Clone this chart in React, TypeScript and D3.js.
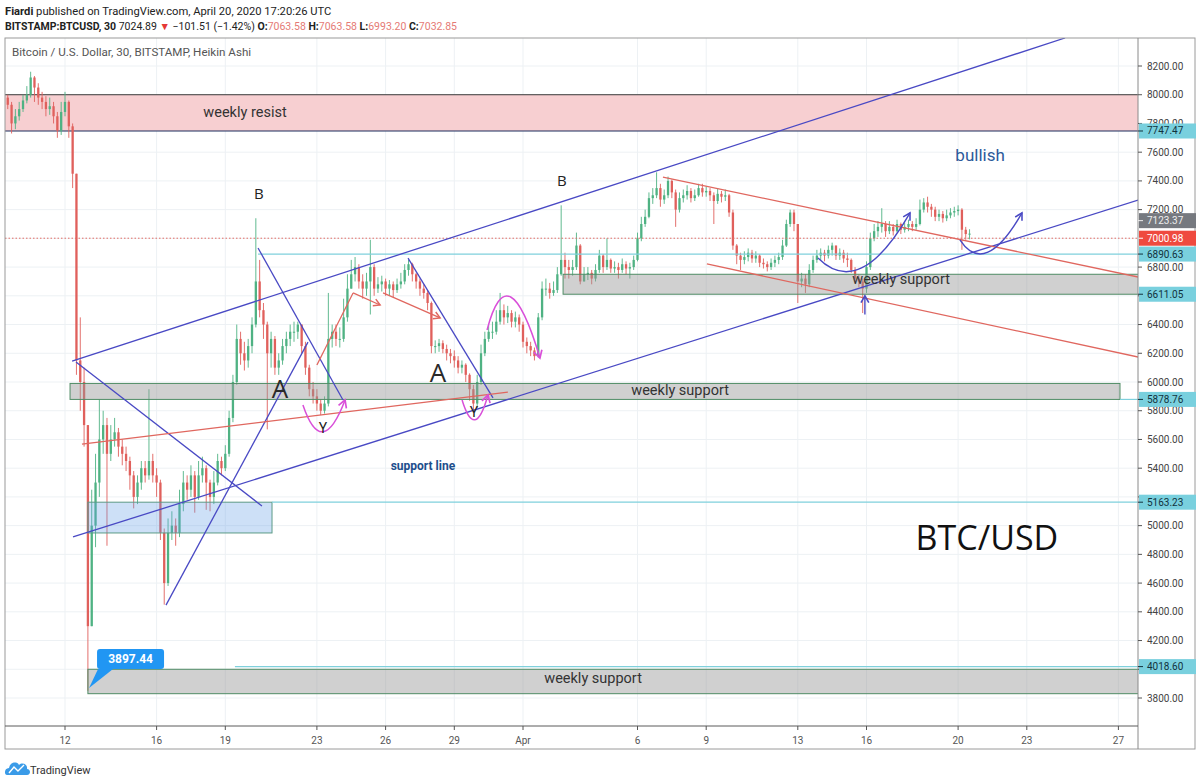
import React from "react";
import * as d3 from "d3";

// ---------- DATA (4-hour candles, first candle = 2020-03-09 12:00 UTC) ----------
const firstOpen = 7980;
const closes = [
  7930, 7800, 7850,
  7900, 7960, 8000, 8120, 8050, 7980,
  7950, 7900, 7920, 7850, 7750, 7880,
  7950, 7780, 7450, 6150, 6000, 5700,
  4300, 5000, 5300, 5600, 5700, 5500,
  5600, 5650, 5550, 5500, 5450, 5350,
  5200, 5300, 5400, 5350, 5450, 5350,
  5300, 4950, 4600, 4950, 5000, 4950,
  5150, 5300, 5250, 5350, 5200, 5350,
  5400, 5300, 5200, 5300, 5450, 5400,
  5500, 5750, 6000, 6300, 6200, 6150,
  6250, 6400, 6700, 6500, 6400, 6200,
  6300, 6100, 6150, 6250, 6300, 6350,
  6350, 6400, 6250, 6100, 5950, 5900,
  5850, 5800, 5850, 6300, 6350, 6300,
  6300, 6450, 6650, 6750, 6800, 6700,
  6650, 6700, 6800, 6650, 6680, 6700,
  6650, 6680, 6640, 6680, 6700, 6780,
  6820, 6750, 6700, 6650, 6620, 6550,
  6250, 6250, 6270, 6230, 6200, 6180,
  6150, 6100, 6120, 6050, 5950, 5850,
  6000, 6200, 6300, 6350, 6350, 6420,
  6500, 6450, 6480, 6420, 6450, 6400,
  6280, 6250, 6220, 6180, 6450, 6650,
  6650, 6620, 6640, 6750, 6850, 6800,
  6780, 6800, 6950, 6700, 6750, 6760,
  6720, 6780, 6880, 6800, 6850, 6790,
  6800, 6780, 6820, 6790, 6800, 6850,
  7000, 7100, 7150, 7280, 7300, 7350,
  7270, 7300, 7400, 7320, 7200, 7280,
  7300, 7330, 7280, 7300, 7350, 7320,
  7330, 7300, 7260, 7310, 7290, 7300,
  7180, 6950, 6880, 6850, 6870, 6900,
  6860, 6880, 6830, 6820, 6800, 6830,
  6850, 6870, 6950, 7100, 7180, 7100,
  6700, 6720, 6680, 6780, 6850, 6880,
  6900, 6880, 6920, 6950, 6880, 6900,
  6860, 6850, 6780, 6720, 6700, 6650,
  6800, 7000, 7050, 7080, 7100, 7050,
  7080, 7050, 7100, 7060, 7080, 7100,
  7080, 7100, 7200, 7250, 7220, 7200,
  7150, 7170, 7140, 7160, 7180, 7190,
  7200, 7060, 7030, 7032.85,
];
const highs = [
  8000, 7950, 7900,
  7950, 8000, 8060, 8160, 8130, 8080,
  8020, 7990, 7980, 7950, 7880, 7950,
  8020, 7960, 7800, 7450, 6450, 6100,
  5700, 5250, 5500, 5880, 5800, 5750,
  5700, 5750, 5680, 5600, 5550, 5480,
  5380, 5350, 5450, 5450, 5950, 5500,
  5400, 5320, 4980, 5050, 5100, 5050,
  5250, 5380, 5350, 5420, 5380, 5450,
  5480, 5420, 5320, 5380, 5500, 5480,
  5560, 5800, 6050, 6400, 6350, 6280,
  6300, 6450, 7140, 6850, 6550, 6420,
  6350, 6320, 6200, 6300, 6350, 6400,
  6420, 6420, 6400, 6280, 6120, 6000,
  5950, 5880, 5900, 6620, 6400, 6400,
  6380, 6580, 6750, 6850, 6870, 6820,
  6750, 6760, 6990, 6820, 6730, 6740,
  6720, 6710, 6700, 6720, 6760, 6820,
  6850, 6830, 6760, 6720, 6680, 6640,
  6560, 6290, 6300, 6290, 6260, 6230,
  6220, 6180, 6150, 6130, 6060, 5980,
  6050, 6260, 6350, 6400, 6420, 6500,
  6620, 6540, 6530, 6500, 6490, 6470,
  6420, 6310, 6280, 6240, 6480, 6700,
  6720, 6690, 6700, 6800, 7230, 6900,
  6850, 6850, 7040, 6960, 6800, 6800,
  6780, 6820, 6920, 6890, 7000, 6860,
  6840, 6830, 6860, 6840, 6830, 6880,
  7040, 7150, 7200, 7320, 7350, 7460,
  7380, 7340, 7430, 7410, 7340, 7320,
  7340, 7370, 7350, 7340, 7380, 7380,
  7360, 7350, 7320, 7350, 7330, 7340,
  7310, 7200, 6960, 6900, 6910, 6930,
  6920, 6910, 6890, 6860, 6840, 6860,
  6880, 6900, 6990, 7130, 7200, 7200,
  7100, 6760, 6750, 6820, 6880, 6920,
  6930, 6920, 6950, 6970, 6950, 6930,
  6920, 6900, 6860, 6800, 6750, 6720,
  6840, 7040, 7100, 7120, 7210, 7120,
  7120, 7100, 7130, 7110, 7110, 7130,
  7120, 7140, 7270, 7280, 7290, 7240,
  7220, 7200, 7190, 7200, 7210, 7220,
  7230, 7210, 7080, 7063.58,
];
const lows = [
  7900, 7730, 7760,
  7820, 7880, 7940, 7980, 7950, 7930,
  7900, 7850, 7860, 7800, 7700, 7720,
  7850, 7700, 7350, 6050, 5800, 5550,
  3850, 4300, 4850, 5200, 5500, 4860,
  5450, 5550, 5480, 5420, 5380, 5250,
  5120, 5150, 5250, 5300, 5320, 5300,
  5200, 4900, 4450, 4580, 4900, 4860,
  4920, 5100, 5180, 5200, 5090, 5180,
  5300, 5110, 5100, 5150, 5280, 5350,
  5380, 5480, 5720, 5980, 6120, 6080,
  6100, 6200, 6380, 6450, 6300, 5670,
  6100, 6050, 6050, 6120, 6200, 6250,
  6280, 6300, 6200, 6050, 5900, 5850,
  5800, 5770, 5780, 5830, 6240, 6250,
  6240, 6280, 6420, 6650, 6700, 6650,
  6580, 6600, 6470, 6600, 6620, 6630,
  6600, 6600, 6590, 6620, 6650, 6680,
  6740, 6700, 6650, 6600, 6580, 6500,
  6200, 6200, 6210, 6200, 6150, 6130,
  6100, 6060, 6060, 6000, 5870, 5800,
  5820, 5980, 6180, 6280, 6300, 6330,
  6400, 6400, 6410, 6380, 6380, 6350,
  6240, 6200, 6180, 6150, 6170, 6430,
  6600, 6580, 6600, 6620, 6740, 6720,
  6720, 6740, 6780, 6680, 6700, 6710,
  6680, 6700, 6760, 6760, 6780, 6760,
  6760, 6720, 6760, 6750, 6720, 6780,
  6840, 6980, 7080, 7140, 7240, 7280,
  7220, 7240, 7280, 7280, 7080, 7180,
  7250, 7270, 7250, 7260, 7290, 7290,
  7290, 7260, 7100, 7240, 7250, 7260,
  7150, 6920, 6820, 6780, 6820, 6840,
  6830, 6830, 6800, 6790, 6770, 6780,
  6800, 6820, 6850, 6940, 7080, 7050,
  6550, 6660, 6620, 6660, 6760, 6830,
  6850, 6840, 6860, 6880, 6850, 6850,
  6830, 6800, 6760, 6700, 6660, 6480,
  6620, 6780, 6980, 7010, 7040, 7010,
  7030, 7020, 7040, 7030, 7040, 7050,
  7050, 7060, 7090, 7180, 7180, 7150,
  7120, 7120, 7110, 7120, 7140, 7150,
  7160, 6920, 6990, 6993.2,
];

const priceTicks = [3800, 4000, 4200, 4400, 4600, 4800, 5000, 5200, 5400, 5600, 5800, 6000, 6200, 6400, 6600, 6800, 7000, 7200, 7400, 7600, 7800, 8000, 8200];
const timeTickDates = ["2020-03-12", "2020-03-16", "2020-03-19", "2020-03-23", "2020-03-26", "2020-03-29", "2020-04-01", "2020-04-06", "2020-04-09", "2020-04-13", "2020-04-16", "2020-04-20", "2020-04-23", "2020-04-27"];
const timeTickLabels = ["12", "16", "19", "23", "26", "29", "Apr", "6", "9", "13", "16", "20", "23", "27"];

// price level labels on the axis
const levelValues = [7747.47, 7123.37, 7000.98, 6890.63, 6611.05, 5878.76, 5163.23, 4018.6];
const levelKinds = ["cyan", "gray", "red", "cyan", "cyan", "cyan", "cyan", "cyan"];

// drawings, in (days after 2020-03-12 00:00 UTC, price)
const blueLines = [
  [0.31, 6146, 43.67, 8395],
  [0.35, 4921, 46.86, 7267],
  [0.48, 6139, 8.6, 5137],
  [4.41, 4447, 10.61, 6278],
  [8.43, 6933, 12.14, 5875],
  [14.98, 6863, 18.69, 5889],
];
const redLines = [
  [0.74, 5568, 19.34, 5930],
  [26.11, 7427, 46.86, 6731],
  [28.03, 6822, 46.86, 6174],
  [11.0, 6118, 12.58, 6620],
];
const redArrows = [
  [12.58, 6620, 13.76, 6536],
  [13.89, 6620, 16.38, 6446],
];
const magentaArcs = [
  [10.39, 5840, 11.22, 5450, 12.23, 5875],
  [17.34, 5875, 17.9, 5582, 18.47, 5910],
  [18.43, 6362, 19.34, 6919, 20.74, 6167],
];
const blueArcs = [
  [32.88, 6863, 34.72, 6571, 36.9, 7177],
  [39.08, 6989, 40.17, 6724, 41.79, 7177],
];
const blueArrows = [[34.93, 6470, 34.93, 6600]];
// zones: [startDay, endDay, topPrice, bottomPrice]
const pinkZones = [[-3, 48, 8000, 7747.47]];
const greyZones = [
  [21.75, 48, 6750, 6611.05],
  [0.22, 46.07, 5990, 5878.76],
  [1.0, 48, 4000, 3830],
];
const blueZones = [[1.0, 9.04, 5163.23, 4949]];
// cyan horizontal rays: [startDay, price]
const cyanRays = [
  [8.43, 6890.63],
  [9.04, 5163.23],
  [7.42, 4018.6],
  [46.07, 5878.76],
];
// text notes: [day, price, text, kind]
const notes: [number, number, string, string][] = [
  [7.86, 7873, "weekly resist", "zone"],
  [26.86, 5944, "weekly support", "zone"],
  [36.51, 6717, "weekly support", "zone"],
  [23.06, 3939, "weekly support", "zone"],
  [8.47, 7316, "B", "b"],
  [21.7, 7406, "B", "b"],
  [9.39, 5958, "A", "a"],
  [16.29, 6070, "A", "a"],
  [11.27, 5680, "Y", "y"],
  [17.86, 5791, "Y", "y"],
  [15.63, 5415, "support line", "support"],
  [39.96, 7580, "bullish", "bullish"],
  [40.26, 4921, "BTC/USD", "big"],
];
const lowLabel = { day: 1.05, price: 3870, text: "3897.44" };

// ---------- COMPONENT ----------
const FONT = "Roboto, 'Open Sans', Arial, sans-serif";
const PL = 5, PR = 1138, PT = 38, PB = 726;
const BLUE = "#4949c4";
const RED = "#e0675f";
const MAG = "#d94fd9";

export default function App() {
  const base = Date.UTC(2020, 2, 12);
  const x = d3.scaleUtc().domain([new Date(base), new Date(Date.UTC(2020, 3, 27))]).range([65, 1118.4]);
  const y = d3.scaleLinear().domain([3800, 8200]).range([698, 66]);
  const X = (d: number) => x(new Date(base + d * 864e5));
  const start = Date.UTC(2020, 2, 9, 12);

  const candles = closes.map((c, i) => {
    const o = i === 0 ? firstOpen : closes[i - 1];
    const h = Math.max(highs[i], o, c);
    const l = Math.min(lows[i], o, c);
    return { t: new Date(start + i * 4 * 3600e3), o, c, h, l };
  });

  const arcPath = (a: number[]) =>
    `M${X(a[0])},${y(a[1])} Q${X(a[2])},${y(a[3])} ${X(a[4])},${y(a[5])}`;

  const levelStyle: Record<string, { fill: string; text: string }> = {
    cyan: { fill: "#79d0de", text: "#12323d" },
    gray: { fill: "#76797f", text: "#eeeeee" },
    red: { fill: "#ef4a3f", text: "#ffffff" },
  };

  const noteStyle: Record<string, any> = {
    zone: { fontSize: 14.5, fill: "#333", fontWeight: 400 },
    b: { fontSize: 15, fill: "#222", fontWeight: 400 },
    a: { fontSize: 26, fill: "#2a2a2a", fontWeight: 400 },
    y: { fontSize: 14, fill: "#222", fontWeight: 400 },
    support: { fontSize: 12, fill: "#1d4e8c", fontWeight: 700 },
    bullish: { fontSize: 17, fill: "#2d5a9a", fontWeight: 400 },
    big: { fontSize: 34, fill: "#111", fontWeight: 400 },
  };

  // tick labels hidden under a level label box are not drawn
  const visibleTicks = priceTicks.filter((p) => !levelValues.some((v) => Math.abs(y(p) - y(v)) < 6));

  const ll = { ax: X(lowLabel.day), ay: y(lowLabel.price) };

  return (
    <svg width={1200} height={782} style={{ position: "absolute", left: 0, top: 0, background: "#fff" }} fontFamily={FONT}>
      <defs>
        <clipPath id="plot">
          <rect x={PL} y={PT} width={PR - PL} height={PB - PT} />
        </clipPath>
        <marker id="mBlue" viewBox="0 0 10 10" refX="8" refY="5" markerWidth="7" markerHeight="7" orient="auto">
          <path d="M1,1 L8,5 L1,9" fill="none" stroke={BLUE} strokeWidth="1.6" />
        </marker>
        <marker id="mRed" viewBox="0 0 10 10" refX="8" refY="5" markerWidth="7" markerHeight="7" orient="auto">
          <path d="M1,1 L8,5 L1,9" fill="none" stroke={RED} strokeWidth="1.6" />
        </marker>
        <marker id="mMag" viewBox="0 0 10 10" refX="8" refY="5" markerWidth="7" markerHeight="7" orient="auto">
          <path d="M1,1 L8,5 L1,9" fill="none" stroke={MAG} strokeWidth="1.6" />
        </marker>
      </defs>

      <rect x={0} y={0} width={1200} height={782} fill="#fff" />

      {/* header */}
      <text x={5} y={15} fontSize={11.2} fill="#222">
        <tspan fontWeight={700}>Fiardi</tspan>
        <tspan> published on TradingView.com, April 20, 2020 17:20:26 UTC</tspan>
      </text>
      <text x={5} y={30} fontSize={10.5} fill="#222">
        <tspan fontWeight={700}>BITSTAMP:BTCUSD, 30</tspan>
        <tspan> 7024.89 </tspan>
        <tspan fill="#e53935">▼</tspan>
        <tspan> −101.51 (−1.42%) </tspan>
        <tspan fontWeight={700}>O:</tspan>
        <tspan fill="#e57a75">7063.58 </tspan>
        <tspan fontWeight={700}>H:</tspan>
        <tspan fill="#e57a75">7063.58 </tspan>
        <tspan fontWeight={700}>L:</tspan>
        <tspan fill="#e57a75">6993.20 </tspan>
        <tspan fontWeight={700}>C:</tspan>
        <tspan fill="#e57a75">7032.85</tspan>
      </text>

      {/* grid */}
      <g stroke="#edf1f4" strokeWidth={1}>
        {priceTicks.map((p) => (
          <line key={"h" + p} x1={PL} x2={PR} y1={y(p)} y2={y(p)} />
        ))}
        {timeTickDates.map((d) => {
          const xx = x(new Date(d + "T00:00:00Z"));
          return <line key={"v" + d} x1={xx} x2={xx} y1={PT} y2={PB} />;
        })}
      </g>

      <g clipPath="url(#plot)">
        {/* pink resist zone */}
        {pinkZones.map((z, i) => (
          <g key={"pz" + i}>
            <rect x={X(z[0])} y={y(z[2])} width={X(z[1]) - X(z[0])} height={y(z[3]) - y(z[2])} fill="#f7cfd1" />
            <line x1={X(z[0])} x2={X(z[1])} y1={y(z[2])} y2={y(z[2])} stroke="#3a3a3a" strokeWidth={1} />
            <line x1={X(z[0])} x2={X(z[1])} y1={y(z[3])} y2={y(z[3])} stroke="#1c2f5e" strokeWidth={1.2} />
          </g>
        ))}

        {/* candles */}
        {candles.map((k, i) => {
          const cx = x(k.t);
          const up = k.c >= k.o;
          const col = up ? "#4fb283" : "#e0605c";
          const top = y(Math.max(k.o, k.c));
          const bh = Math.max(1, Math.abs(y(k.o) - y(k.c)));
          return (
            <g key={"c" + i}>
              <line x1={cx} x2={cx} y1={y(k.h)} y2={y(k.l)} stroke={col} strokeWidth={0.9} />
              <rect x={cx - 1.15} y={top} width={2.3} height={bh} fill={col} />
            </g>
          );
        })}

        {/* current price dotted line */}
        <line x1={PL} x2={PR} y1={y(levelValues[2])} y2={y(levelValues[2])} stroke="#e36d66" strokeWidth={1} strokeDasharray="1.5 2" />

        {/* grey & blue zones */}
        {greyZones.map((z, i) => (
          <rect key={"gz" + i} x={X(z[0])} y={y(z[2])} width={X(z[1]) - X(z[0])} height={y(z[3]) - y(z[2])} fill="rgba(150,150,150,0.45)" stroke="#4f8c65" strokeWidth={1} />
        ))}
        {blueZones.map((z, i) => (
          <rect key={"bz" + i} x={X(z[0])} y={y(z[2])} width={X(z[1]) - X(z[0])} height={y(z[3]) - y(z[2])} fill="rgba(100,160,230,0.32)" stroke="#5c9a86" strokeWidth={1} />
        ))}
        {cyanRays.map((r, i) => (
          <line key={"cr" + i} x1={X(r[0])} x2={PR} y1={y(r[1])} y2={y(r[1])} stroke="#7fd0dc" strokeWidth={1.2} />
        ))}

        {/* trend lines */}
        {blueLines.map((l, i) => (
          <line key={"bl" + i} x1={X(l[0])} y1={y(l[1])} x2={X(l[2])} y2={y(l[3])} stroke={BLUE} strokeWidth={1.3} />
        ))}
        {redLines.map((l, i) => (
          <line key={"rl" + i} x1={X(l[0])} y1={y(l[1])} x2={X(l[2])} y2={y(l[3])} stroke={RED} strokeWidth={1.3} />
        ))}
        {redArrows.map((l, i) => (
          <line key={"ra" + i} x1={X(l[0])} y1={y(l[1])} x2={X(l[2])} y2={y(l[3])} stroke={RED} strokeWidth={1.3} markerEnd="url(#mRed)" />
        ))}
        {magentaArcs.map((a, i) => (
          <path key={"ma" + i} d={arcPath(a)} fill="none" stroke={MAG} strokeWidth={1.5} markerEnd="url(#mMag)" />
        ))}
        {blueArcs.map((a, i) => (
          <path key={"ba" + i} d={arcPath(a)} fill="none" stroke={BLUE} strokeWidth={1.4} markerEnd="url(#mBlue)" />
        ))}
        {blueArrows.map((l, i) => (
          <line key={"bar" + i} x1={X(l[0])} y1={y(l[1])} x2={X(l[2])} y2={y(l[3])} stroke={BLUE} strokeWidth={1.4} markerEnd="url(#mBlue)" />
        ))}

        {/* notes */}
        {notes.map((n, i) => {
          const s = noteStyle[n[3]];
          return (
            <text key={"n" + i} x={X(n[0])} y={y(n[1])} textAnchor="middle" dominantBaseline="central" fontSize={s.fontSize} fill={s.fill} fontWeight={s.fontWeight} fontFamily={n[3] === "big" || n[3] === "a" || n[3] === "b" ? "'Open Sans', Roboto, sans-serif" : FONT}>
              {n[2]}
            </text>
          );
        })}

        {/* low label */}
        <path d={`M${ll.ax},${ll.ay} L${ll.ax + 9},${ll.ay - 19} L${ll.ax + 24},${ll.ay - 19} Z`} fill="#2196f3" />
        <rect x={ll.ax + 8} y={ll.ay - 39} width={67} height={20} rx={3} fill="#2196f3" />
        <text x={ll.ax + 41.5} y={ll.ay - 29} textAnchor="middle" dominantBaseline="central" fontSize={12} fontWeight={700} fill="#fff">
          {lowLabel.text}
        </text>
      </g>

      {/* frame */}
      <rect x={PL} y={PT} width={1195 - PL} height={749 - PT} fill="none" stroke="#9a9a9a" strokeWidth={1} />
      <line x1={PR} x2={PR} y1={PT} y2={749} stroke="#8a8a8a" strokeWidth={1} />
      <line x1={PL} x2={PR} y1={PB} y2={PB} stroke="#5a5a5a" strokeWidth={1} />

      <text x={12} y={56} fontSize={11.6} fill="#555">Bitcoin / U.S. Dollar, 30, BITSTAMP, Heikin Ashi</text>

      {/* price axis */}
      {priceTicks.map((p) => (
        <line key={"ptk" + p} x1={PR} x2={PR + 4} y1={y(p)} y2={y(p)} stroke="#555" />
      ))}
      {visibleTicks.map((p) => (
        <text key={"pt" + p} x={1147} y={y(p)} dominantBaseline="central" fontSize={10} fill="#444">
          {p.toFixed(2)}
        </text>
      ))}
      {levelValues.map((v, i) => {
        const st = levelStyle[levelKinds[i]];
        return (
          <g key={"lv" + i}>
            <rect x={PR + 1} y={y(v) - 7.5} width={57} height={15} fill={st.fill} />
            <line x1={PR} x2={PR + 5} y1={y(v)} y2={y(v)} stroke={st.text} />
            <text x={1147} y={y(v)} dominantBaseline="central" fontSize={10} fill={st.text}>
              {v.toFixed(2)}
            </text>
          </g>
        );
      })}

      {/* time axis */}
      {timeTickDates.map((d, i) => {
        const xx = x(new Date(d + "T00:00:00Z"));
        return (
          <g key={"tt" + d}>
            <line x1={xx} x2={xx} y1={PB} y2={PB + 4} stroke="#555" />
            <text x={xx} y={740} textAnchor="middle" dominantBaseline="central" fontSize={10} fill="#555">
              {timeTickLabels[i]}
            </text>
          </g>
        );
      })}

      {/* logo */}
      <g>
        <path d="M7,775 C4,775 4,768 9,768 C10,762 17,761 19,765 C22,762 28,764 27,769 C31,769 31,775 27,775 Z" fill="#3a9be8" />
        <path d="M9,773 L14,767 L18,771 L24,765" fill="none" stroke="#fff" strokeWidth={1.4} />
        <text x={30} y={770} dominantBaseline="central" fontSize={11} fill="#333">TradingView</text>
      </g>
    </svg>
  );
}
